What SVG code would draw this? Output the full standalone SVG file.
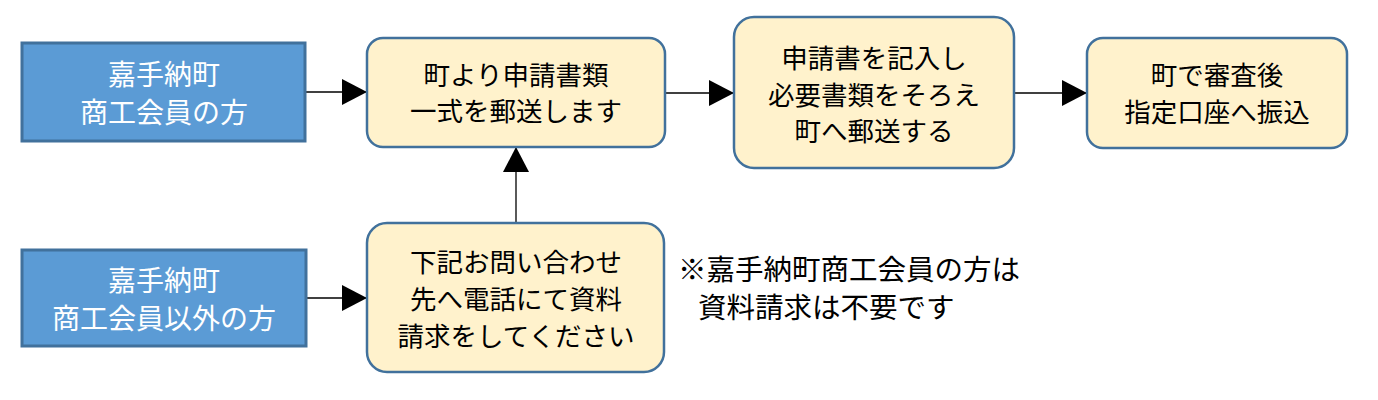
<svg xmlns="http://www.w3.org/2000/svg" width="1378" height="400" viewBox="0 0 1378 400">
<style>
text{font-family:"Noto Sans CJK JP","Noto Sans",sans-serif;font-size:26.5px;text-anchor:middle}
.blue rect{fill:#5B9BD5;stroke:#41719C;stroke-width:3}
.blue text{fill:#fff;font-size:28px}
.cream rect{fill:#FFF2CC;stroke:#41719C;stroke-width:2.5}
.cream text{fill:#000}
.note{fill:#000;text-anchor:start;font-size:28.5px}
#connectors line{stroke:#000;stroke-width:1.3}
</style>
<defs>
<marker id="ah" markerWidth="25" markerHeight="26" refX="25" refY="13" orient="auto" markerUnits="userSpaceOnUse">
<path d="M0,0 L25,13 L0,26 Z" fill="#000"/>
</marker>
</defs>
<g id="connectors">
<line x1="306" y1="92" x2="367" y2="92" marker-end="url(#ah)"/>
<line x1="665" y1="93" x2="734" y2="93" marker-end="url(#ah)"/>
<line x1="1014" y1="93" x2="1087" y2="93" marker-end="url(#ah)"/>
<line x1="306" y1="298" x2="367" y2="298" marker-end="url(#ah)"/>
<line x1="516" y1="223" x2="516" y2="147" marker-end="url(#ah)"/>
</g>
<g id="n1" class="blue">
<rect x="22" y="43" width="283" height="98"/>
<text x="164" y="85">嘉手納町</text>
<text x="164" y="123">商工会員の方</text>
</g>
<g id="n2" class="cream">
<rect x="367" y="38" width="298" height="109" rx="16"/>
<text x="516" y="85">町より申請書類</text>
<text x="516" y="121">一式を郵送します</text>
</g>
<g id="n3" class="cream">
<rect x="734" y="17" width="280" height="151" rx="20"/>
<text x="874" y="68">申請書を記入し</text>
<text x="874" y="105">必要書類をそろえ</text>
<text x="874" y="141">町へ郵送する</text>
</g>
<g id="n4" class="cream">
<rect x="1087" y="38" width="260" height="110" rx="16"/>
<text x="1217" y="85">町で審査後</text>
<text x="1217" y="122">指定口座へ振込</text>
</g>
<g id="n5" class="blue">
<rect x="22" y="250" width="284" height="96"/>
<text x="164" y="291">嘉手納町</text>
<text x="164" y="329">商工会員以外の方</text>
</g>
<g id="n6" class="cream">
<rect x="367" y="223" width="297" height="149" rx="20"/>
<text x="516" y="272">下記お問い合わせ</text>
<text x="516" y="309">先へ電話にて資料</text>
<text x="516" y="346">請求をしてください</text>
</g>
<g id="note">
<text class="note" x="678" y="280">※嘉手納町商工会員の方は</text>
<text class="note" x="698" y="318">資料請求は不要です</text>
</g>
</svg>
